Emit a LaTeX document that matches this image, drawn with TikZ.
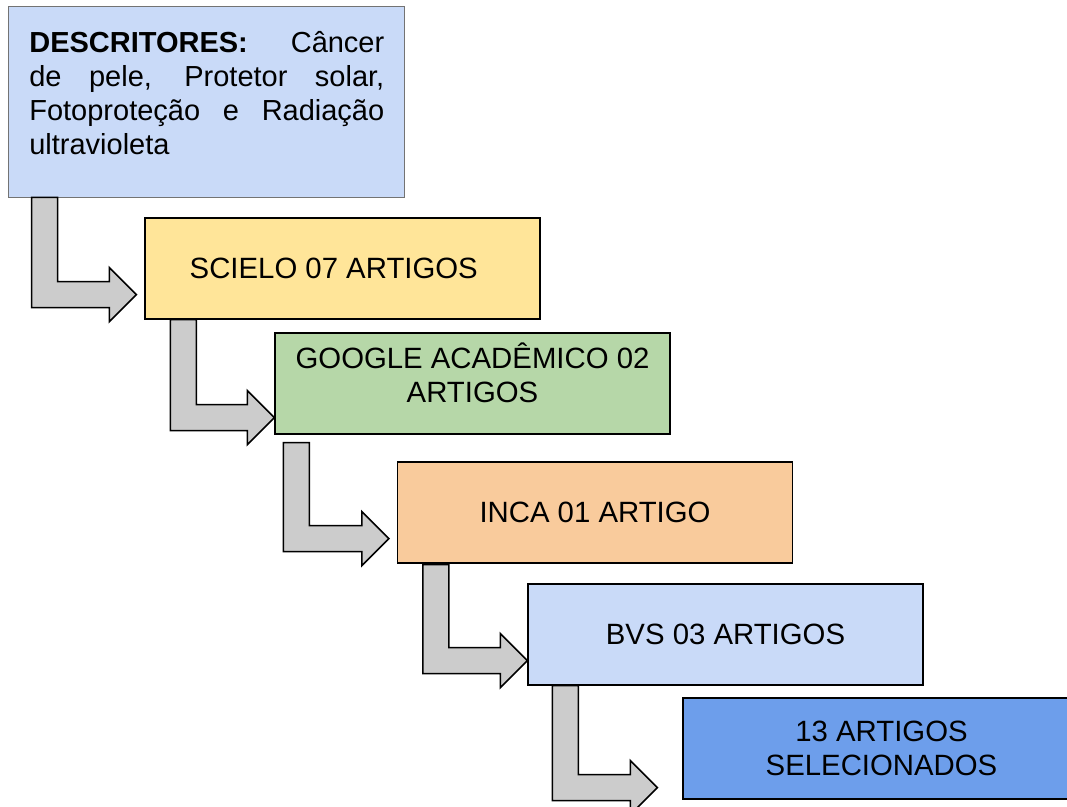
\documentclass[tikz,border=0pt]{standalone}
\usepackage{fontspec}
\setmainfont{Liberation Sans}
\usetikzlibrary{positioning, calc}

\definecolor{descblue}{HTML}{C9DAF8}
\definecolor{scieloyellow}{HTML}{FFE599}
\definecolor{googlegreen}{HTML}{B6D7A8}
\definecolor{incaorange}{HTML}{F9CB9C}
\definecolor{finalblue}{HTML}{6D9EEB}

\begin{document}
\begin{tikzpicture}[x=0.02cm, y=-0.02cm,
        box/.style={draw=black, line width=0.7pt, minimum width=7.9cm, minimum height=2.02cm, align=center, font=\fontsize{16.7}{19.3}\selectfont},
        bentarrow/.style={draw=black, fill=black!20, line width=0.9pt, line join=miter}]
        \useasboundingbox (0,0) rectangle (1067,807);

                % Draw the search terms box
                \node[draw=black!55, fill=descblue, line width=0.5pt, minimum width=7.92cm, minimum height=3.82cm] (desc) at (206,101.5) {};
                \node[anchor=north west, inner sep=0pt, text width=7.1cm, align=justify, font=\fontsize{16.5}{19.3}\selectfont] (desctext) at (29,31) {\textbf{DESCRITORES:} Câncer\linebreak de pele, Protetor solar,\linebreak Fotoproteção e Radiação\linebreak ultravioleta};

                % Draw the database boxes
                \node[box, fill=scieloyellow] (scielo) at (342.5,268.5) {SCIELO 07 ARTIGOS\hspace*{0.35cm}};
                \node[box, fill=googlegreen] (google) at (472.5,383.5) {GOOGLE ACADÊMICO 02\\ARTIGOS\\[-0.25cm]};
                \node[box, fill=incaorange] (inca) at (595,512.5) {INCA 01 ARTIGO};
                \node[box, fill=descblue] (bvs) at (725.5,634.5) {BVS 03 ARTIGOS};

                % Draw the result box
                \node[box, fill=finalblue, minimum width=7.94cm] (final) at (881.5,748.5) {13 ARTIGOS\\SELECIONADOS};

                % Start and tip of the bent arrows
                \coordinate (s1) at ($(desc.south west)+(24,0)$);
                \coordinate (t1) at ($(scielo.south west)+(-8,-25)$);
                \coordinate (s2) at ($(scielo.south west)+(26,0)$);
                \coordinate (t2) at ($(google.south west)+(0,-17)$);
                \coordinate (s3) at ($(google.south west)+(9,8)$);
                \coordinate (t3) at ($(inca.south west)+(-8,-25)$);
                \coordinate (s4) at ($(inca.south west)+(26,1)$);
                \coordinate (t4) at ($(bvs.south west)+(0,-25)$);
                \coordinate (s5) at ($(bvs.south west)+(25,0)$);
                \coordinate (t5) at ($(final.south west)+(-25,-12)$);

                % Draw the bent arrows
                \draw[bentarrow] (s1) -- ++(26,0) |- ($(t1)+(-27,-13)$) -- ++(0,-14) -- (t1) -- ++(-27,27) -- ++(0,-14) -| (s1) -- cycle;
                \draw[bentarrow] (s2) -- ++(26,0) |- ($(t2)+(-27,-13)$) -- ++(0,-14) -- (t2) -- ++(-27,27) -- ++(0,-14) -| (s2) -- cycle;
                \draw[bentarrow] (s3) -- ++(26,0) |- ($(t3)+(-27,-13)$) -- ++(0,-14) -- (t3) -- ++(-27,27) -- ++(0,-14) -| (s3) -- cycle;
                \draw[bentarrow] (s4) -- ++(26,0) |- ($(t4)+(-27,-13)$) -- ++(0,-14) -- (t4) -- ++(-27,27) -- ++(0,-14) -| (s4) -- cycle;
                \draw[bentarrow] (s5) -- ++(26,0) |- ($(t5)+(-27,-13)$) -- ++(0,-14) -- (t5) -- ++(-27,27) -- ++(0,-14) -| (s5) -- cycle;

\end{tikzpicture}
\end{document}
